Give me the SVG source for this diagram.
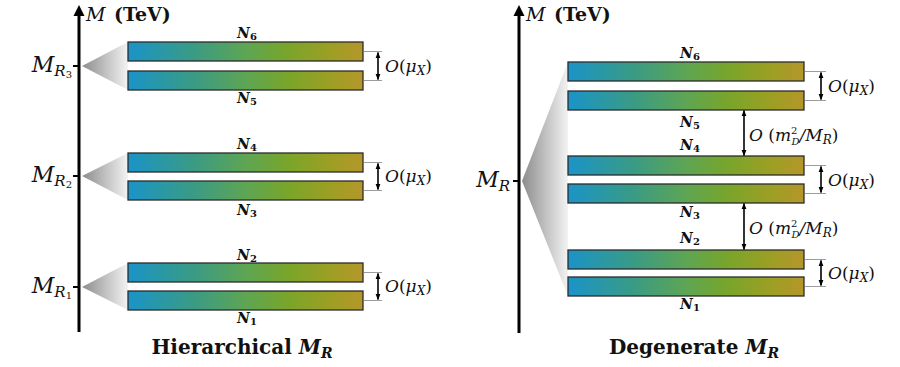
<svg xmlns="http://www.w3.org/2000/svg" width="900" height="367" viewBox="0 0 900 367">
<style>
.bar{fill:url(#barg);stroke:#2b2b2b;stroke-width:1.3}
.fan{fill:url(#fang);stroke:none}
.axis{stroke:#000;stroke-width:3;fill:none}
.tick{stroke:#000;stroke-width:2}
.guide{stroke:#9c9c9c;stroke-width:1}
.dim{stroke:#000;stroke-width:1.6;marker-start:url(#ah);marker-end:url(#ah)}
text{font-family:"DejaVu Serif","Liberation Serif",serif;fill:#111}
.m{font-style:italic}
.up{font-style:normal}
.nl{font-style:italic;font-weight:bold;font-size:14px;text-anchor:middle}
.title{font-weight:bold;font-size:20px;text-anchor:middle}
</style>
<defs>
<linearGradient id="barg" x1="0" y1="0" x2="1" y2="0">
<stop offset="0" stop-color="#1a94c8"/>
<stop offset="0.28" stop-color="#3a9b84"/>
<stop offset="0.5" stop-color="#5ea554"/>
<stop offset="0.68" stop-color="#79a52a"/>
<stop offset="0.86" stop-color="#9c9f24"/>
<stop offset="1" stop-color="#b5962a"/>
</linearGradient>
<linearGradient id="fang" x1="0" y1="0" x2="1" y2="0">
<stop offset="0" stop-color="#8c8c8c"/>
<stop offset="1" stop-color="#f3f3f3"/>
</linearGradient>
<marker id="ah" viewBox="0 0 10 10" refX="9" refY="5" markerWidth="6" markerHeight="6" orient="auto-start-reverse" markerUnits="userSpaceOnUse"><path d="M0,1 L10,5 L0,9 z" fill="#000"/></marker>
</defs>

<!-- Left panel: Hierarchical -->
<g id="axis-left">
<line class="axis" x1="79" y1="14" x2="79" y2="332"/>
<polygon points="79,5 73.5,16 84.5,16" fill="#000"/>
<text class="m" x="86" y="21" font-size="19">M</text>
<text x="114" y="21" font-size="19" font-weight="bold">(TeV)</text>
</g>

<g id="group-MR3">
<line class="tick" x1="73" y1="66" x2="79" y2="66"/>
<text class="m" x="72" y="72" font-size="22" text-anchor="end">M<tspan font-size="15" dy="4">R</tspan><tspan class="up" font-size="10" dy="2">3</tspan></text>
<polygon class="fan" points="82,66 128,42 128,90"/>
</g>
<g id="N6"><rect class="bar" x="128" y="42" width="235" height="19"/><text class="nl" x="247" y="38">N<tspan class="up" font-size="10" dy="2">6</tspan></text></g>
<g id="N5"><rect class="bar" x="128" y="71" width="235" height="19"/><text class="nl" x="247" y="103">N<tspan class="up" font-size="10" dy="2">5</tspan></text></g>

<g id="group-MR2">
<line class="tick" x1="73" y1="176" x2="79" y2="176"/>
<text class="m" x="72" y="182" font-size="22" text-anchor="end">M<tspan font-size="15" dy="4">R</tspan><tspan class="up" font-size="10" dy="2">2</tspan></text>
<polygon class="fan" points="82,176 128,153 128,200"/>
</g>
<g id="N4"><rect class="bar" x="128" y="153" width="235" height="19"/><text class="nl" x="247" y="149">N<tspan class="up" font-size="10" dy="2">4</tspan></text></g>
<g id="N3"><rect class="bar" x="128" y="181" width="235" height="19"/><text class="nl" x="247" y="215">N<tspan class="up" font-size="10" dy="2">3</tspan></text></g>

<g id="group-MR1">
<line class="tick" x1="73" y1="287" x2="79" y2="287"/>
<text class="m" x="72" y="293" font-size="22" text-anchor="end">M<tspan font-size="15" dy="4">R</tspan><tspan class="up" font-size="10" dy="2">1</tspan></text>
<polygon class="fan" points="82,287 128,263 128,310"/>
</g>
<g id="N2"><rect class="bar" x="128" y="263" width="235" height="19"/><text class="nl" x="247" y="260">N<tspan class="up" font-size="10" dy="2">2</tspan></text></g>
<g id="N1"><rect class="bar" x="128" y="291" width="235" height="19"/><text class="nl" x="247" y="323">N<tspan class="up" font-size="10" dy="2">1</tspan></text></g>

<text class="title" x="242" y="354">Hierarchical <tspan font-style="italic">M</tspan><tspan font-style="italic" font-size="14" dy="4">R</tspan></text>

<!-- Right panel: Degenerate -->
<g id="axis-right">
<line class="axis" x1="519" y1="14" x2="519" y2="333"/>
<polygon points="519,5 513.5,16 524.5,16" fill="#000"/>
<text class="m" x="526" y="21" font-size="19">M</text>
<text x="554" y="21" font-size="19" font-weight="bold">(TeV)</text>
</g>
<g id="group-MR">
<line class="tick" x1="513" y1="181" x2="519" y2="181"/>
<text class="m" x="510" y="187" font-size="22" text-anchor="end">M<tspan font-size="15" dy="4">R</tspan></text>
<polygon class="fan" points="522,181 568,62 568,296"/>
</g>
<g id="dN6"><rect class="bar" x="568" y="62" width="236" height="19"/><text class="nl" x="690" y="58">N<tspan class="up" font-size="10" dy="2">6</tspan></text></g>
<g id="dN5"><rect class="bar" x="568" y="91" width="236" height="19"/><text class="nl" x="690" y="127">N<tspan class="up" font-size="10" dy="2">5</tspan></text></g>
<g id="dN4"><rect class="bar" x="568" y="156" width="236" height="19"/><text class="nl" x="690" y="150">N<tspan class="up" font-size="10" dy="2">4</tspan></text></g>
<g id="dN3"><rect class="bar" x="568" y="184" width="236" height="19"/><text class="nl" x="690" y="217">N<tspan class="up" font-size="10" dy="2">3</tspan></text></g>
<g id="dN2"><rect class="bar" x="568" y="250" width="236" height="19"/><text class="nl" x="690" y="243">N<tspan class="up" font-size="10" dy="2">2</tspan></text></g>
<g id="dN1"><rect class="bar" x="568" y="277" width="236" height="19"/><text class="nl" x="690" y="309">N<tspan class="up" font-size="10" dy="2">1</tspan></text></g>

<text class="title" x="694" y="354">Degenerate <tspan font-style="italic">M</tspan><tspan font-style="italic" font-size="14" dy="4">R</tspan></text>

<!-- Connectors / splitting indicators -->
<g id="connectors">
<line class="guide" x1="364" y1="51.5" x2="382" y2="51.5"/>
<line class="guide" x1="364" y1="80.5" x2="382" y2="80.5"/>
<line class="dim" x1="378" y1="52.5" x2="378" y2="79.5"/>
<line class="guide" x1="364" y1="162.5" x2="382" y2="162.5"/>
<line class="guide" x1="364" y1="190.5" x2="382" y2="190.5"/>
<line class="dim" x1="378" y1="163.5" x2="378" y2="189.5"/>
<line class="guide" x1="364" y1="272.5" x2="382" y2="272.5"/>
<line class="guide" x1="364" y1="300.5" x2="382" y2="300.5"/>
<line class="dim" x1="378" y1="273.5" x2="378" y2="299.5"/>

<line class="guide" x1="805" y1="71.5" x2="826" y2="71.5"/>
<line class="guide" x1="805" y1="100.5" x2="826" y2="100.5"/>
<line class="dim" x1="821" y1="72.5" x2="821" y2="99.5"/>
<line class="guide" x1="805" y1="165.5" x2="826" y2="165.5"/>
<line class="guide" x1="805" y1="193.5" x2="826" y2="193.5"/>
<line class="dim" x1="821" y1="166.5" x2="821" y2="192.5"/>
<line class="guide" x1="805" y1="259.5" x2="826" y2="259.5"/>
<line class="guide" x1="805" y1="286.5" x2="826" y2="286.5"/>
<line class="dim" x1="821" y1="260.5" x2="821" y2="285.5"/>

<line class="dim" x1="744" y1="110.5" x2="744" y2="155.5"/>
<line class="dim" x1="744" y1="203.5" x2="744" y2="249.5"/>
</g>

<g id="labels">
<text class="m" x="385" y="72" font-size="17">O<tspan class="up">(</tspan>μ<tspan font-size="12" dy="3">X</tspan><tspan class="up" dy="-3">)</tspan></text>
<text class="m" x="385" y="182" font-size="17">O<tspan class="up">(</tspan>μ<tspan font-size="12" dy="3">X</tspan><tspan class="up" dy="-3">)</tspan></text>
<text class="m" x="385" y="292" font-size="17">O<tspan class="up">(</tspan>μ<tspan font-size="12" dy="3">X</tspan><tspan class="up" dy="-3">)</tspan></text>
<text class="m" x="828" y="92" font-size="17">O<tspan class="up">(</tspan>μ<tspan font-size="12" dy="3">X</tspan><tspan class="up" dy="-3">)</tspan></text>
<text class="m" x="828" y="186" font-size="17">O<tspan class="up">(</tspan>μ<tspan font-size="12" dy="3">X</tspan><tspan class="up" dy="-3">)</tspan></text>
<text class="m" x="828" y="279" font-size="17">O<tspan class="up">(</tspan>μ<tspan font-size="12" dy="3">X</tspan><tspan class="up" dy="-3">)</tspan></text>
<text class="m" x="749" y="141" font-size="17">O <tspan class="up">(</tspan>m<tspan class="up" font-size="10" dy="-7">2</tspan><tspan font-size="10" dx="-6" dy="11">D</tspan><tspan dy="-4">/M</tspan><tspan font-size="12" dy="3">R</tspan><tspan class="up" dy="-3">)</tspan></text>
<text class="m" x="749" y="234" font-size="17">O <tspan class="up">(</tspan>m<tspan class="up" font-size="10" dy="-7">2</tspan><tspan font-size="10" dx="-6" dy="11">D</tspan><tspan dy="-4">/M</tspan><tspan font-size="12" dy="3">R</tspan><tspan class="up" dy="-3">)</tspan></text>
</g>
</svg>
